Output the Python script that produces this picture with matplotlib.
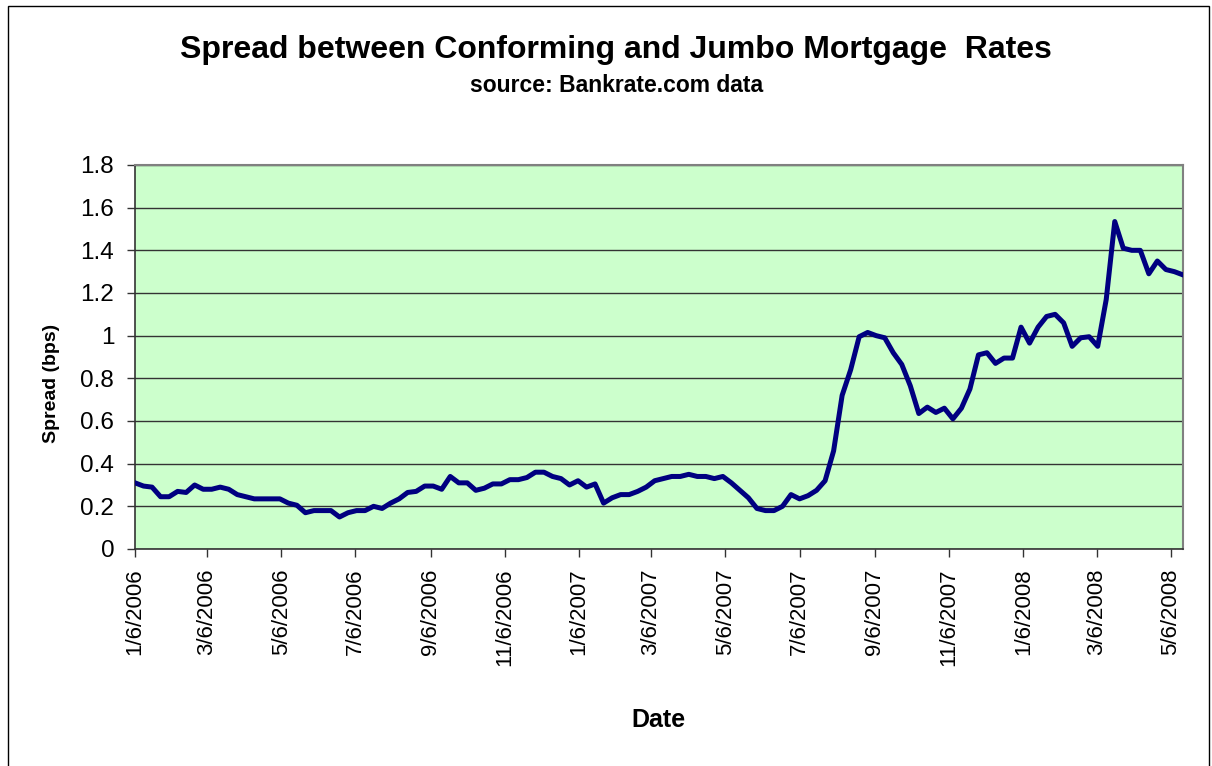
import matplotlib
matplotlib.use("Agg")
import matplotlib.pyplot as plt
import matplotlib.dates as mdates
import numpy as np
import pandas as pd
from matplotlib.patches import Rectangle

# weekly spread readings, starting 1/6/2006
start_date = "2006-01-06"
spread = [
    0.31, 0.295, 0.29, 0.245, 0.245, 0.27, 0.265, 0.30, 0.28, 0.28,
    0.29, 0.28, 0.255, 0.245, 0.235, 0.235, 0.235, 0.235, 0.215, 0.205,
    0.17, 0.18, 0.18, 0.18, 0.15, 0.17, 0.18, 0.18, 0.20, 0.19,
    0.215, 0.235, 0.265, 0.27, 0.295, 0.295, 0.28, 0.34, 0.31, 0.31,
    0.275, 0.285, 0.305, 0.305, 0.325, 0.325, 0.335, 0.36, 0.36, 0.34,
    0.33, 0.30, 0.32, 0.29, 0.305, 0.215, 0.24, 0.255, 0.255, 0.27,
    0.29, 0.32, 0.33, 0.34, 0.34, 0.35, 0.34, 0.34, 0.33, 0.34,
    0.31, 0.275, 0.24, 0.19, 0.18, 0.18, 0.20, 0.255, 0.235, 0.25,
    0.275, 0.32, 0.46, 0.72, 0.84, 0.995, 1.015, 1.0, 0.99, 0.92,
    0.865, 0.765, 0.635, 0.665, 0.64, 0.66, 0.61, 0.66, 0.75, 0.91,
    0.92, 0.87, 0.895, 0.895, 1.04, 0.965, 1.04, 1.09, 1.10, 1.06,
    0.95, 0.99, 0.995, 0.95, 1.17, 1.535, 1.41, 1.40, 1.40, 1.29,
    1.35, 1.31, 1.30, 1.285,
]
dates = pd.date_range(start_date, periods=len(spread), freq="7D")
y_ticks = [0, 0.2, 0.4, 0.6, 0.8, 1.0, 1.2, 1.4, 1.6, 1.8]

plt.rcParams["font.family"] = ["Liberation Sans", "DejaVu Sans"]

fig = plt.figure(figsize=(12.12, 7.66), dpi=100)
ax = fig.add_axes([0.1114, 0.2833, 0.8646, 0.5013])

# outer chart border
fig.patches.append(Rectangle((8 / 1212, -0.01), 1201 / 1212, 1 - 6 / 766 + 0.01,
                             transform=fig.transFigure, fill=False,
                             edgecolor="black", linewidth=1))

ax.set_facecolor("#CCFFCC")
ax.plot(dates, spread, color="#000080", linewidth=3.6, solid_joinstyle="round",
        zorder=3)

ax.set_ylim(0, 1.8)
ax.set_yticks(y_ticks)
ax.set_yticklabels([f"{v:g}" for v in y_ticks])
ax.yaxis.grid(True, color="#333333", linewidth=1)
ax.set_axisbelow(True)

ax.set_xlim(dates[0], dates[-1])
ax.xaxis.set_major_locator(mdates.MonthLocator(bymonth=[1, 3, 5, 7, 9, 11], bymonthday=6))


def fmt_date(x, pos=None):
    d = mdates.num2date(x)
    return f"{d.month}/{d.day}/{d.year}"


ax.xaxis.set_major_formatter(plt.FuncFormatter(fmt_date))
plt.setp(ax.get_xticklabels(), rotation=90)

ax.tick_params(axis="both", length=6, width=1, color="#333333")
ax.tick_params(axis="x", labelsize=16, pad=8)
ax.tick_params(axis="y", labelsize=17.5, pad=9)

for side in ["top", "right"]:
    ax.spines[side].set_color("#808080")
    ax.spines[side].set_linewidth(1.5)
for side in ["left", "bottom"]:
    ax.spines[side].set_color("#333333")
    ax.spines[side].set_linewidth(1.2)

# axis titles placed in figure coordinates
fig.text(52 / 1212, 1 - 383 / 766, "Spread (bps)", fontsize=14, fontweight="bold",
         rotation=90, ha="center", va="center")
fig.text(658 / 1212, 1 - 720 / 766, "Date", fontsize=18, fontweight="bold",
         ha="center", va="center")

fig.text(616 / 1212, 1 - 50 / 766, "Spread between Conforming and Jumbo Mortgage  Rates",
         fontsize=23, fontweight="bold", ha="center", va="center")
fig.text(617 / 1212, 1 - 85 / 766, "source: Bankrate.com data",
         fontsize=16.5, fontweight="bold", ha="center", va="center")

fig.savefig("out.png", dpi=100)
